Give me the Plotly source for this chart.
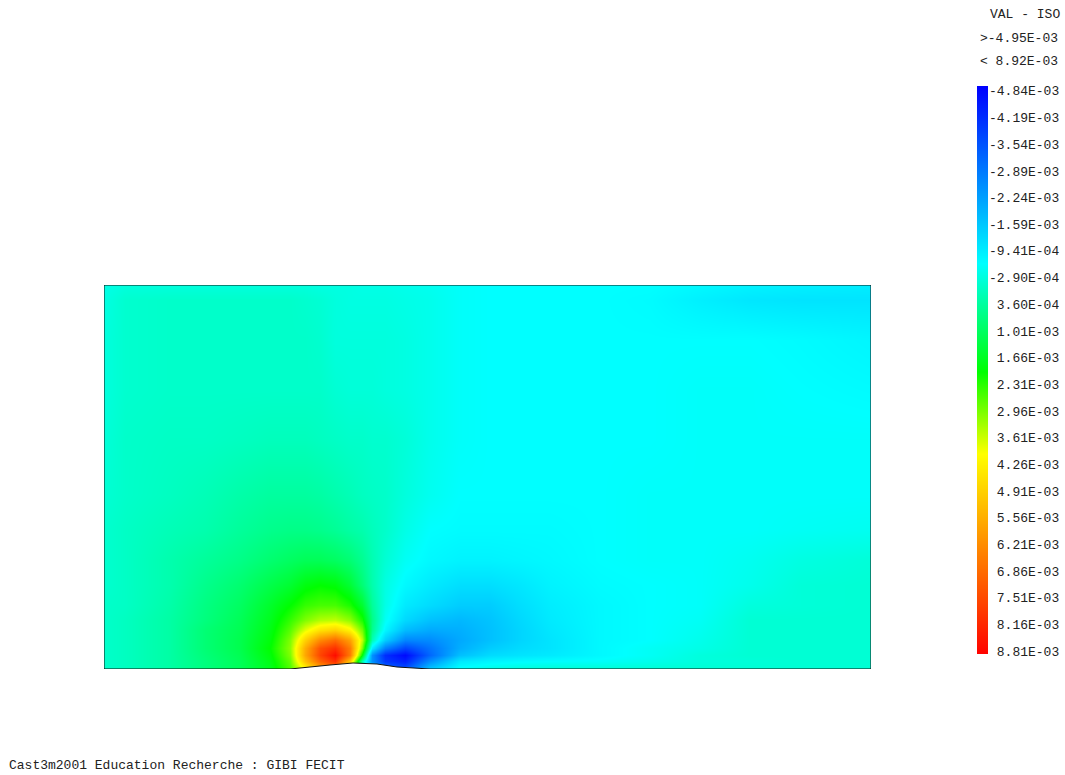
import plotly.graph_objects as go

W, H = 1065, 775
# mesh coordinates across the domain (0 = left edge) and above its floor
x_mesh = [0,21,66,101,136,166,186,201,216,231,246,258,268,281,301,326,356,386,416,446,496,546,596,646,696,767]
y_mesh = [0,8,14,21,29,39,49,64,84,109,139,174,229,279,329,369,384]
# iso values x 1e-3, bottom row first
z_rows = [
 [-.1,0,.3,.7,1.1,1.7,2.6,4,5.5,6.5,4,1.2,-1.5,-3,-3.5,-1.5,-.55,-.35,-.25,-.2,-.2,-.2,-.2,-.2,-.2,-.2],
 [-.1,0,.3,.7,1.1,1.8,2.8,5.2,7,8,5,.2,-2.5,-4,-4.4,-2.5,-1.0,-.8,-.7,-.65,-.6,-.45,-.3,-.25,-.2,-.2],
 [-.1,0,.3,.75,1.15,1.9,3.0,5.7,7.6,8.7,6.5,1.9,-2.5,-4.2,-4.8,-3.2,-1.7,-1.25,-1.1,-1.0,-.75,-.55,-.3,-.2,-.2,-.2],
 [-.1,0,.3,.8,1.2,2.0,3.1,5.6,7.4,8,6.5,3,-1,-2.8,-3.8,-3,-2,-1.5,-1.25,-1.1,-.75,-.55,-.4,-.2,-.2,-.2],
 [-.1,0,.3,.8,1.2,1.9,3.0,4.9,6.3,6.9,5.8,3.5,.1,-1.5,-2.7,-2.6,-2.1,-1.7,-1.35,-1.1,-.75,-.65,-.45,-.2,-.2,-.2],
 [-.1,0,.3,.8,1.15,1.8,2.7,3.8,4.6,4.9,4.2,2.9,.5,-.8,-1.8,-2.1,-2,-1.7,-1.35,-1.05,-.75,-.65,-.5,-.2,-.2,-.2],
 [-.1,0,.3,.7,1.1,1.7,2.4,3,3.4,3.5,3.1,2.2,.6,-.55,-1.3,-1.7,-1.85,-1.65,-1.3,-1,-.75,-.65,-.55,-.2,-.2,-.2],
 [-.1,-.05,.25,.65,1.0,1.55,2.0,2.4,2.55,2.55,2.2,1.5,.4,-.4,-1,-1.25,-1.5,-1.5,-1.2,-.95,-.75,-.65,-.6,-.3,-.25,-.2],
 [-.15,-.05,.2,.55,.85,1.25,1.5,1.85,2,1.9,1.45,.8,.2,-.35,-.75,-1,-1.2,-1.2,-1.05,-.85,-.7,-.65,-.6,-.45,-.25,-.2],
 [-.15,-.05,.2,.4,.6,.85,1,1.1,1.1,1,.8,.5,.15,-.2,-.55,-.75,-.85,-.85,-.8,-.75,-.65,-.6,-.6,-.5,-.35,-.25],
 [-.15,-.05,.1,.2,.4,.55,.6,.6,.55,.45,.3,.2,.05,-.1,-.4,-.65,-.7,-.7,-.7,-.7,-.65,-.6,-.6,-.6,-.55,-.5],
 [-.2,-.1,0,.1,.25,.35,.35,.35,.3,.2,.1,0,-.05,-.1,-.3,-.5,-.65,-.65,-.65,-.65,-.65,-.6,-.6,-.6,-.6,-.6],
 [-.25,-.1,-.05,-.05,0,.05,.05,.05,0,-.05,-.1,-.1,-.15,-.15,-.25,-.45,-.6,-.65,-.65,-.65,-.65,-.65,-.6,-.6,-.6,-.6],
 [-.3,-.15,-.1,-.1,-.1,-.1,-.1,-.1,-.1,-.2,-.25,-.25,-.25,-.3,-.35,-.45,-.6,-.65,-.65,-.65,-.65,-.65,-.6,-.6,-.65,-.7],
 [-.3,-.15,-.1,-.1,-.1,-.1,-.1,-.1,-.15,-.3,-.3,-.3,-.3,-.3,-.35,-.45,-.6,-.65,-.65,-.65,-.65,-.65,-.65,-.65,-.7,-.8],
 [-.35,-.15,-.1,-.1,-.1,-.1,-.1,-.15,-.2,-.3,-.35,-.35,-.35,-.35,-.4,-.45,-.6,-.65,-.65,-.65,-.65,-.7,-.9,-1.05,-1.1,-1.1],
 [-.4,-.3,-.3,-.3,-.3,-.3,-.3,-.3,-.35,-.35,-.35,-.4,-.4,-.4,-.45,-.5,-.6,-.65,-.65,-.65,-.65,-.65,-.75,-.85,-.9,-.95],
]
# outline of the domain, with the bump in its floor
bump_x = [186,203,226,249,273,293,326]
bump_y = [0,2,4,6,5,2,0]
# iso scale
val_min, val_max = -4.95, 8.92
bar_min, bar_max = -4.96, 8.883
iso_levels = [-4.84,-4.19,-3.54,-2.89,-2.24,-1.59,-0.941,-0.290,0.360,1.01,1.66,2.31,2.96,3.61,4.26,4.91,5.56,6.21,6.86,7.51,8.16,8.81]
iso_labels = ["-4.84E-03","-4.19E-03","-3.54E-03","-2.89E-03","-2.24E-03","-1.59E-03","-9.41E-04","-2.90E-04",
              "\u00a03.60E-04","\u00a01.01E-03","\u00a01.66E-03","\u00a02.31E-03","\u00a02.96E-03","\u00a03.61E-03",
              "\u00a04.26E-03","\u00a04.91E-03","\u00a05.56E-03","\u00a06.21E-03","\u00a06.86E-03","\u00a07.51E-03",
              "\u00a08.16E-03","\u00a08.81E-03"]
anchors = [(-4.95,"#0000ff"),(-0.65,"#00ffff"),(2.0,"#00ff00"),(4.0,"#ffff00"),(8.92,"#ff0000")]
colorscale = [[(v-val_min)/(val_max-val_min), c] for v, c in anchors]
FONT = "Liberation Mono"

fig = go.Figure()
fig.add_trace(go.Heatmap(x=x_mesh, y=y_mesh, z=z_rows, zmin=val_min, zmax=val_max, colorscale=colorscale,
                         zsmooth="best", showscale=False, hoverinfo="skip"))
fig.add_trace(go.Scatter(x=bump_x, y=bump_y, mode="lines", fill="toself", fillcolor="white",
                         line=dict(width=0), hoverinfo="skip", showlegend=False))
outline_x = [0, 0, 767, 767, 326] + bump_x[::-1][1:] + [0]
outline_y = [0, 384, 384, 0, 0] + bump_y[::-1][1:] + [0]
fig.add_trace(go.Scatter(x=outline_x, y=outline_y, mode="lines", line=dict(color="#111111", width=1),
                         cliponaxis=False, hoverinfo="skip", showlegend=False))
scale_y = [bar_min] + iso_levels + [bar_max]
fig.add_trace(go.Heatmap(x=[0, 1], y=scale_y, z=[[v, v] for v in scale_y], xaxis="x2", yaxis="y2",
                         zmin=val_min, zmax=val_max, colorscale=colorscale, zsmooth="best",
                         showscale=False, hoverinfo="skip"))

note = dict(xref="paper", yref="paper", showarrow=False, xanchor="left", yanchor="middle",
            font=dict(family=FONT, size=13, color="#222222"))
texts = [("VAL - ISO", 988, 14), (">-4.95E-03", 978, 38), ("<\u00a08.92E-03", 978, 61),
         ("Cast3m2001 Education Recherche : GIBI FECIT", 7, 765)]
fig.update_layout(
    width=W, height=H, margin=dict(l=0, r=0, t=0, b=0), paper_bgcolor="white", plot_bgcolor="white",
    showlegend=False,
    xaxis=dict(domain=[104/W, 871/W], range=[0, 767], visible=False, automargin=False),
    yaxis=dict(domain=[1-669/H, 1-285/H], range=[0, 384], visible=False, automargin=False),
    xaxis2=dict(domain=[977/W, 988/W], range=[0, 1], visible=False, anchor="y2", automargin=False),
    yaxis2=dict(domain=[1-654/H, 1-86/H], range=[bar_max, bar_min], anchor="x2", side="right", automargin=False,
                tickmode="array", tickvals=iso_levels, ticktext=iso_labels, ticks="", showgrid=False,
                zeroline=False, showline=False, tickfont=dict(family=FONT, size=13, color="#222222")),
    annotations=[dict(note, text=t, x=x/W, y=1-y/H) for t, x, y in texts],
)
fig.write_html("out.html", config={"displayModeBar": False},
               post_script="document.body.style.margin='0';document.body.style.overflow='hidden';")
